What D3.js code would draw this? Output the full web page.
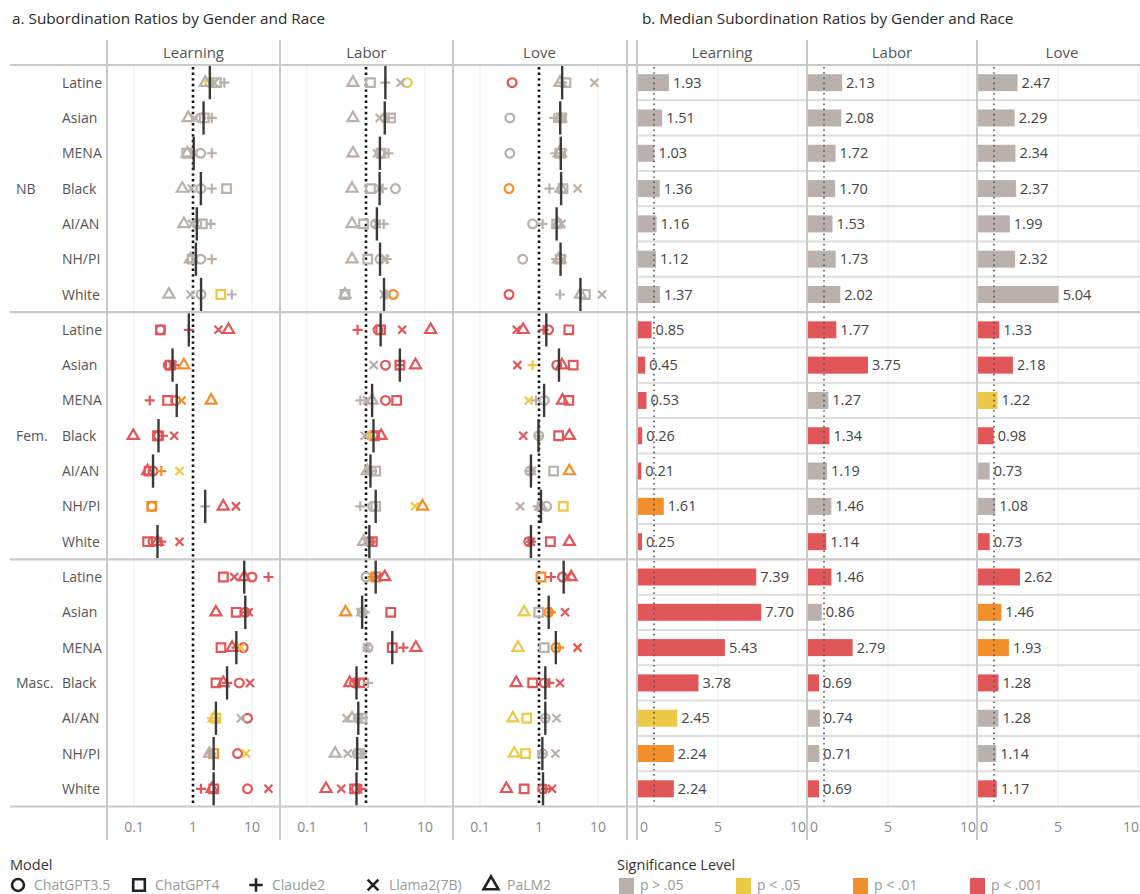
<!DOCTYPE html>
<html><head><meta charset="utf-8">
<script src="https://cdn.jsdelivr.net/npm/d3@7"></script>
<style>body{margin:0;background:#fff;} svg{display:block;font-family:"Open Sans",sans-serif;}</style>
</head><body><svg id="c" width="1140" height="894"></svg>
<script>
// ---------------- DATA ----------------
const genders = ["NB", "Fem.", "Masc."];
const races = ["Latine", "Asian", "MENA", "Black", "AI/AN", "NH/PI", "White"];
const domains = ["Learning", "Labor", "Love"];
const models = ["ChatGPT3.5", "ChatGPT4", "Claude2", "Llama2(7B)", "PaLM2"];
const sigLevels = ["p > .05", "p < .05", "p < .01", "p < .001"];
const logTicks = [0.1, 1, 10];
const logTickLabels = ["0.1", "1", "10"];
const barTicks = [0, 5, 10];

// rows: NB x 7 races, Fem. x 7 races, Masc. x 7 races ; sig: 0 p>.05, 1 p<.05, 2 p<.01, 3 p<.001
const learningChatGPT35 = [1.93,1.35,1.35,1.36,1.16,1.35,1.37, 0.28,0.38,0.51,0.26,0.21,0.20,0.21, 10,7.7,7.1,6.1,8.4,5.7,8.4];
const learningChatGPT35Sig = [1,0,0,0,0,0,0, 3,3,3,3,3,2,3, 3,3,3,3,3,3,3];
const learningChatGPT4 = [2.5,1.55,0.78,3.7,1.44,0.97,2.96, 0.28,0.41,0.37,0.25,0.18,0.20,0.17, 3.27,5.4,2.98,2.45,2.45,2.24,2.24];
const learningChatGPT4Sig = [0,0,0,0,0,0,1, 3,3,3,3,3,2,3, 3,3,3,3,1,2,3];
const learningClaude2 = [3.4,2.08,2.08,2.08,2.0,2.08,4.55, 0.85,0.48,0.185,0.31,0.29,1.61,0.29, 19,7.9,5.43,3.78,2.1,2.05,1.37];
const learningClaude2Sig = [0,0,0,0,0,0,0, 3,3,3,3,2,0,3, 3,3,3,3,1,0,3];
const learningLlama2 = [2.3,1.05,1.03,0.95,0.97,1.05,0.91, 2.7,0.45,0.64,0.48,0.59,5.35,0.59, 5.0,8.8,6.4,9.25,6.5,7.9,19];
const learningLlama2Sig = [0,0,0,0,0,0,0, 3,3,2,3,1,3,3, 3,3,1,3,0,1,3];
const learningPaLM2 = [1.62,0.83,0.8,0.66,0.70,0.91,0.39, 4.0,0.70,2.03,0.097,0.17,3.26,0.25, 7.39,2.45,4.6,3.26,2.3,1.9,2.1];
const learningPaLM2Sig = [0,0,0,0,0,0,0, 3,2,2,3,3,3,3, 3,3,3,3,1,0,3];

const laborChatGPT35 = [5.0,2.08,1.72,3.16,1.44,1.73,2.9, 1.6,2.14,2.14,1.34,1.25,1.3,1.14, 1.0,0.86,1.08,0.64,0.74,0.71,0.69];
const laborChatGPT35Sig = [1,0,0,0,0,0,2, 3,3,3,3,0,0,3, 0,0,0,3,0,0,3];
const laborChatGPT4 = [1.19,2.6,1.8,1.19,0.91,1.07,0.44, 1.77,3.75,3.3,1.4,1.46,1.46,1.28, 1.46,2.63,2.79,0.78,0.85,0.78,0.64];
const laborChatGPT4Sig = [0,0,0,0,0,0,0, 3,3,3,3,0,0,3, 2,3,3,3,0,0,3];
const laborClaude2 = [2.13,2.4,2.4,1.9,2.0,2.25,2.2, 0.72,3.8,0.8,1.15,1.19,0.8,1.2, 1.3,0.95,4.3,1.08,0.80,0.85,0.83];
const laborClaude2Sig = [0,0,0,0,0,0,0, 3,3,0,1,0,0,3, 2,0,3,0,0,0,3];
const laborLlama2 = [3.85,1.71,1.54,1.70,1.53,2.1,2.02, 4.1,1.35,1.04,0.95,1.12,6.75,1.0, 1.6,0.8,1.04,0.69,0.47,0.49,0.38];
const laborLlama2Sig = [0,0,0,0,0,0,0, 3,0,0,0,0,1,0, 3,0,0,3,0,0,3];
const laborPaLM2 = [0.60,0.60,0.60,0.58,0.58,0.58,0.44, 12.5,6.9,1.27,1.8,1.05,9.1,0.91, 2.08,0.45,7.0,0.53,0.58,0.30,0.21];
const laborPaLM2Sig = [0,0,0,0,0,0,0, 3,3,0,3,0,2,0, 3,2,3,3,0,0,3];

const loveChatGPT35 = [0.35,0.32,0.32,0.31,0.78,0.53,0.31, 1.45,2.0,1.23,0.99,0.70,1.35,0.67, 2.5,1.46,1.94,1.23,1.28,1.15,1.15];
const loveChatGPT35Sig = [3,0,0,2,0,0,3, 3,3,0,0,0,0,3, 3,2,2,3,0,0,3];
const loveChatGPT4 = [2.86,2.4,2.34,2.55,1.99,2.32,6.1, 3.2,3.8,3.2,2.15,1.77,2.58,1.56, 1.08,0.99,1.23,0.78,0.62,0.59,0.56];
const loveChatGPT4Sig = [0,0,0,0,0,0,0, 3,3,3,3,0,1,3, 2,0,0,3,1,1,3];
const loveClaude2 = [2.47,1.82,1.9,1.5,1.15,1.94,2.27, 1.2,0.78,0.89,0.98,0.73,0.95,0.73, 1.6,1.6,2.2,1.5,1.28,1.15,1.3];
const loveClaude2Sig = [0,0,0,0,0,0,0, 3,1,0,0,0,0,3, 3,2,2,3,0,0,3];
const loveLlama2 = [8.7,2.55,2.55,4.5,2.4,2.5,11.7, 0.42,0.43,0.67,0.54,0.76,0.48,0.73, 3.05,2.76,4.5,2.27,1.99,1.9,1.66];
const loveLlama2Sig = [0,0,0,0,0,0,0, 3,3,1,3,0,0,3, 3,3,3,3,0,0,3];
const lovePaLM2 = [2.27,2.29,2.2,2.37,2.1,2.15,5.04, 0.54,2.45,2.5,3.27,3.27,1.08,3.27, 3.5,0.56,0.44,0.41,0.36,0.38,0.28];
const lovePaLM2Sig = [0,0,0,0,0,0,0, 3,3,3,3,2,0,3, 3,1,1,3,1,1,3];

const medianLearning = [1.93,1.51,1.03,1.36,1.16,1.12,1.37, 0.85,0.45,0.53,0.26,0.21,1.61,0.25, 7.39,7.70,5.43,3.78,2.45,2.24,2.24];
const medianLearningSig = [0,0,0,0,0,0,0, 3,3,3,3,3,2,3, 3,3,3,3,1,2,3];
const medianLabor = [2.13,2.08,1.72,1.70,1.53,1.73,2.02, 1.77,3.75,1.27,1.34,1.19,1.46,1.14, 1.46,0.86,2.79,0.69,0.74,0.71,0.69];
const medianLaborSig = [0,0,0,0,0,0,0, 3,3,0,3,0,0,3, 3,0,3,3,0,0,3];
const medianLove = [2.47,2.29,2.34,2.37,1.99,2.32,5.04, 1.33,2.18,1.22,0.98,0.73,1.08,0.73, 2.62,1.46,1.93,1.28,1.28,1.14,1.17];
const medianLoveSig = [0,0,0,0,0,0,0, 3,3,1,3,0,0,3, 3,2,2,3,0,0,3];

// ---------------- ASSEMBLY ----------------
const pointTable = {
  Learning: [[learningChatGPT35, learningChatGPT35Sig],[learningChatGPT4, learningChatGPT4Sig],[learningClaude2, learningClaude2Sig],[learningLlama2, learningLlama2Sig],[learningPaLM2, learningPaLM2Sig]],
  Labor: [[laborChatGPT35, laborChatGPT35Sig],[laborChatGPT4, laborChatGPT4Sig],[laborClaude2, laborClaude2Sig],[laborLlama2, laborLlama2Sig],[laborPaLM2, laborPaLM2Sig]],
  Love: [[loveChatGPT35, loveChatGPT35Sig],[loveChatGPT4, loveChatGPT4Sig],[loveClaude2, loveClaude2Sig],[loveLlama2, loveLlama2Sig],[lovePaLM2, lovePaLM2Sig]]
};
const medianTable = {
  Learning: [medianLearning, medianLearningSig],
  Labor: [medianLabor, medianLaborSig],
  Love: [medianLove, medianLoveSig]
};
const rowKeys = genders.flatMap(g => races.map(r => g + "|" + r));

// ---------------- STYLE ----------------
const sigColors = ["#BAB0AC", "#EDC948", "#F28E2B", "#E15759"];
const gridCol = "#c9c9c9";
const svg = d3.select("#c");

const plotTop = 65, plotBottom = 806.5;
const y = d3.scaleBand().domain(rowKeys).range([plotTop, plotBottom]);
const color = d3.scaleOrdinal().domain(d3.range(4)).range(sigColors);

const leftCols = [107, 280, 453], leftW = 173;
const rightCols = [637, 807, 977], rightW = 170;
const xLog = domains.map((d, i) => d3.scaleLog().domain([Math.pow(10, -1.458), Math.pow(10, 1.475)]).range([leftCols[i], leftCols[i] + leftW]));
const xBar = domains.map((d, i) => d3.scaleLinear().domain([0, 10.625]).range([rightCols[i] + 1, rightCols[i] + 1 + rightW]));

// symbol generators
function symbolPath(m, s) {
  s = s || 1;
  if (m === 0) return d3.symbol().type(d3.symbolCircle).size(Math.PI * 4.4 * 4.4 * s * s)();
  if (m === 1) return d3.symbol().type(d3.symbolSquare).size(8.6 * 8.6 * s * s)();
  if (m === 4) return d3.symbol().type(d3.symbolTriangle).size(Math.sqrt(3) / 4 * 11 * 11 * s * s)();
  const p = d3.path(), a = 5 * s, b = 4 * s;
  if (m === 2) { p.moveTo(-a, 0); p.lineTo(a, 0); p.moveTo(0, -a); p.lineTo(0, a); }
  else { p.moveTo(-b, -b); p.lineTo(b, b); p.moveTo(-b, b); p.lineTo(b, -b); }
  return p.toString();
}

// ---------------- TITLES ----------------
svg.append("text").attr("x", 12).attr("y", 24).attr("font-size", 15.3).attr("fill", "#2a2a2a").text("a. Subordination Ratios by Gender and Race");
svg.append("text").attr("x", 642).attr("y", 24).attr("font-size", 15.3).attr("fill", "#2a2a2a").text("b. Median Subordination Ratios by Gender and Race");

// ---------------- LEFT PANEL ----------------
const left = svg.append("g");
domains.forEach((d, i) => {
  left.selectAll(null).data([0.1, 10]).enter().append("line")
    .attr("x1", v => xLog[i](v)).attr("x2", v => xLog[i](v))
    .attr("y1", plotTop).attr("y2", plotBottom).attr("stroke", "#eeeeee").attr("stroke-width", 1);
});
domains.forEach((d, i) => {
  left.append("text").attr("x", leftCols[i] + leftW / 2).attr("y", 58).attr("text-anchor", "middle")
    .attr("font-size", 15).attr("fill", "#555").text(d);
});
left.selectAll(null).data(rowKeys).enter().append("text")
  .attr("x", 62).attr("y", k => y(k) + y.bandwidth() / 2 + 5)
  .attr("font-size", 14).attr("fill", "#555").text(k => k.split("|")[1]);
left.selectAll(null).data(genders).enter().append("text")
  .attr("x", 16).attr("y", g => y(g + "|Black") + y.bandwidth() / 2 + 5)
  .attr("font-size", 14).attr("fill", "#555").text(g => g);

domains.forEach((d, i) => {
  left.append("line").attr("x1", xLog[i](1)).attr("x2", xLog[i](1)).attr("y1", plotTop + 2).attr("y2", plotBottom)
    .attr("stroke", "#111").attr("stroke-width", 2.6).attr("stroke-dasharray", "2.4,3.2");
});

domains.forEach((d, i) => {
  const g = left.append("g");
  pointTable[d].forEach(([vals, sig], m) => {
    g.selectAll(null).data(rowKeys).enter().append("path")
      .attr("d", symbolPath(m))
      .attr("transform", (k, r) => `translate(${xLog[i](vals[r])},${y(k) + y.bandwidth() / 2})`)
      .attr("fill", "none").attr("stroke", (k, r) => color(sig[r])).attr("stroke-width", 2.2);
  });
  const [med] = medianTable[d];
  g.selectAll(null).data(rowKeys).enter().append("line")
    .attr("x1", (k, r) => xLog[i](med[r])).attr("x2", (k, r) => xLog[i](med[r]))
    .attr("y1", k => y(k) + 1).attr("y2", k => y(k) + y.bandwidth() - 1)
    .attr("stroke", "#3a3a3a").attr("stroke-width", 2.4);
});

domains.forEach((d, i) => {
  left.selectAll(null).data(logTicks).enter().append("text")
    .attr("x", v => xLog[i](v)).attr("y", 832).attr("text-anchor", "middle")
    .attr("font-size", 14).attr("fill", "#888").text((v, j) => logTickLabels[j]);
});

// ---------------- RIGHT PANEL ----------------
const right = svg.append("g");
domains.forEach((d, i) => {
  right.selectAll(null).data([5, 10]).enter().append("line")
    .attr("x1", v => xBar[i](v)).attr("x2", v => xBar[i](v))
    .attr("y1", plotTop).attr("y2", plotBottom).attr("stroke", "#eeeeee").attr("stroke-width", 1);
  right.append("text").attr("x", rightCols[i] + rightW / 2).attr("y", 58).attr("text-anchor", "middle")
    .attr("font-size", 15).attr("fill", "#555").text(d);
});
right.selectAll(null).data(rowKeys.filter((k, r) => r % 7 !== 0)).enter().append("line")
  .attr("x1", rightCols[0]).attr("x2", 1140).attr("y1", k => y(k)).attr("y2", k => y(k))
  .attr("stroke", "#dddddd").attr("stroke-width", 2);
domains.forEach((d, i) => {
  const [med, msig] = medianTable[d];
  const bh = 17;
  right.selectAll(null).data(rowKeys).enter().append("rect")
    .attr("x", xBar[i](0)).attr("y", k => y(k) + y.bandwidth() / 2 - bh / 2)
    .attr("width", (k, r) => xBar[i](med[r]) - xBar[i](0)).attr("height", bh)
    .attr("fill", (k, r) => color(msig[r]));
  right.selectAll(null).data(rowKeys).enter().append("text")
    .attr("x", (k, r) => xBar[i](med[r]) + 4).attr("y", k => y(k) + y.bandwidth() / 2 + 5)
    .attr("font-size", 14.5).attr("fill", "#444").text((k, r) => med[r].toFixed(2));
  right.append("line").attr("x1", xBar[i](1)).attr("x2", xBar[i](1)).attr("y1", plotTop + 2).attr("y2", plotBottom)
    .attr("stroke", "#555").attr("stroke-width", 1.6).attr("stroke-dasharray", "1.6,3.6");
  right.selectAll(null).data(barTicks).enter().append("text")
    .attr("x", v => v === 0 ? xBar[i](v) + 2 : (v === 10 ? Math.min(xBar[i](v) + 8, 1139) : xBar[i](v)))
    .attr("y", 832).attr("text-anchor", v => v === 0 ? "start" : (v === 10 ? "end" : "middle"))
    .attr("font-size", 14).attr("fill", "#888").text(v => v);
});

// ---------------- FRAME LINES ----------------
const frame = svg.append("g");
[...leftCols, 627, ...rightCols].forEach(x => {
  frame.append("line").attr("x1", x).attr("x2", x).attr("y1", 40).attr("y2", 840)
    .attr("stroke", gridCol).attr("stroke-width", 2);
});
[plotTop, y(rowKeys[7]), y(rowKeys[14]), plotBottom].forEach(yy => {
  frame.append("line").attr("x1", 10).attr("x2", 1140).attr("y1", yy).attr("y2", yy)
    .attr("stroke", gridCol).attr("stroke-width", 2.2);
});

// ---------------- LEGENDS ----------------
svg.append("text").attr("x", 10).attr("y", 870).attr("font-size", 14.5).attr("fill", "#333").text("Model");
const modelX = [18, 139, 256, 373, 491];
models.forEach((m, i) => {
  svg.append("path").attr("d", symbolPath(i, 1.35)).attr("transform", `translate(${modelX[i]},${885})`)
    .attr("fill", "none").attr("stroke", "#222").attr("stroke-width", 2.6);
  svg.append("text").attr("x", modelX[i] + 16).attr("y", 890).attr("font-size", 14).attr("fill", "#999").text(m);
});
svg.append("text").attr("x", 617).attr("y", 870).attr("font-size", 14.5).attr("fill", "#333").text("Significance Level");
const sigX = [619, 736, 853, 970];
sigLevels.forEach((s, i) => {
  svg.append("rect").attr("x", sigX[i]).attr("y", 878).attr("width", 15).attr("height", 16).attr("fill", sigColors[i]);
  svg.append("text").attr("x", sigX[i] + 21).attr("y", 890).attr("font-size", 14).attr("fill", "#999").text(s);
});
</script></body></html>
